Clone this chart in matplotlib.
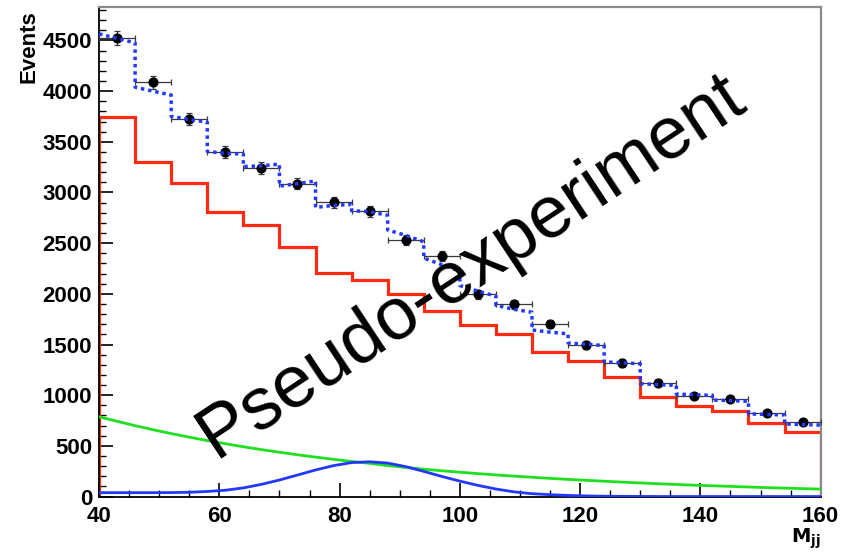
import numpy as np
import matplotlib
matplotlib.use("Agg")
import matplotlib.pyplot as plt

# Binning of the dijet mass histogram
bin_edges = np.arange(40, 161, 6)

# Pseudo-data counts per bin
data_counts = [4525, 4088, 3728, 3398, 3240, 3088, 2903, 2814, 2535, 2372,
               1994, 1896, 1701, 1491, 1317, 1122, 991, 962, 823, 732]

# Main background template (W+jets-like) per bin
bkg_counts = [3740, 3302, 3092, 2803, 2680, 2463, 2201, 2140, 1995, 1835,
              1690, 1600, 1425, 1336, 1175, 978, 892, 846, 722, 632]

# Smooth components sampled along M_jj
curve_x = np.arange(40, 161, 3)
falling_bkg = [787, 742, 699, 659, 621, 586, 552, 521, 491, 463,
               437, 412, 389, 367, 346, 327, 305, 287, 270, 254,
               240, 226, 213, 201, 190, 179, 169, 160, 151, 142,
               134, 126, 119, 112, 106, 100, 94, 88, 83, 78, 73]
signal = [38, 38, 38, 38, 39, 42, 50, 62, 85, 120,
          163, 212, 262, 305, 335, 343, 330, 295, 248, 198,
          152, 110, 74, 46, 28, 18, 11, 6, 3, 2,
          1, 0, 0, 0, 0, 0, 0, 0, 0, 0, 0]

x_ticks = [40, 60, 80, 100, 120, 140, 160]
y_ticks = [0, 500, 1000, 1500, 2000, 2500, 3000, 3500, 4000, 4500]

RED = "#ff2a12"
GREEN = "#1fe01f"
BLUE = "#2238ff"

fig = plt.figure(figsize=(8.56, 5.52), dpi=100)
ax = fig.add_axes([0.1157, 0.1005, 0.843, 0.8868])

edges = np.asarray(bin_edges, dtype=float)
bkg = np.asarray(bkg_counts, dtype=float)
centers = 0.5 * (edges[:-1] + edges[1:])
cx = np.asarray(curve_x, dtype=float)
fb = np.asarray(falling_bkg, dtype=float)
sg = np.asarray(signal, dtype=float)

# Background template histogram
ax.stairs(bkg, edges, color=RED, lw=2.3, zorder=2)

# Smooth components
ax.plot(cx, fb, color=GREEN, lw=2.0, zorder=3)
ax.plot(cx, sg, color=BLUE, lw=2.0, zorder=3)

# Pseudo-data with Poisson errors
counts = np.asarray(data_counts, dtype=float)
ax.errorbar(centers, counts, xerr=3, yerr=np.sqrt(counts), fmt="o",
            color="black", ms=6.3, ecolor="#3a3a3a", elinewidth=0.9,
            capsize=2.2, capthick=0.9, zorder=4)

# Total model: template + smooth components, evaluated bin by bin
tot_x, tot_y = [], []
for i in range(len(bkg)):
    sel = (cx >= edges[i]) & (cx <= edges[i + 1])
    tot_x.extend(cx[sel])
    tot_y.extend(bkg[i] + fb[sel] + sg[sel])
ax.plot(tot_x, tot_y, color=BLUE, lw=2.5, ls=(0, (1.0, 1.1)), zorder=5)

ax.set_xlim(40, 160)
ax.set_ylim(0, 4830)
ax.set_xticks(x_ticks)
ax.set_yticks(y_ticks)
ax.set_xticks(np.arange(40, 161, 5), minor=True)
ax.set_yticks(np.arange(0, 4801, 100), minor=True)

lab_font = dict(family="Liberation Sans", weight="bold", size=16)
ax.set_xticklabels([str(v) for v in x_ticks], fontdict=lab_font)
ax.set_yticklabels([str(v) for v in y_ticks], fontdict=lab_font)
ax.tick_params(which="major", direction="in", length=10, width=1.2,
               top=False, right=False, color="black")
ax.tick_params(which="minor", direction="in", length=5, width=1.0,
               top=False, right=False, color="black")
ax.tick_params(axis="x", which="major", pad=7)
ax.tick_params(axis="y", which="major", pad=5)

for side in ("left", "bottom"):
    ax.spines[side].set_color("black")
    ax.spines[side].set_linewidth(1.3)
for side in ("top", "right"):
    ax.spines[side].set_color("#8a8a8a")
    ax.spines[side].set_linewidth(1.6)

fig.text(29 / 856, 1 - 10 / 552, "Events", rotation=90, ha="center",
         va="top", family="Liberation Sans", weight="bold", size=16)
fig.text(821 / 856, 1 - 543 / 552, r"$\mathbf{M_{jj}}$", ha="right",
         va="baseline", size=14)

fig.text(216 / 856, 1 - 458 / 552, "Pseudo-experiment", rotation=33.5,
         rotation_mode="anchor", ha="left", va="baseline",
         family="Liberation Sans", size=53, color="black", zorder=10)

fig.savefig("out.png", dpi=100)
